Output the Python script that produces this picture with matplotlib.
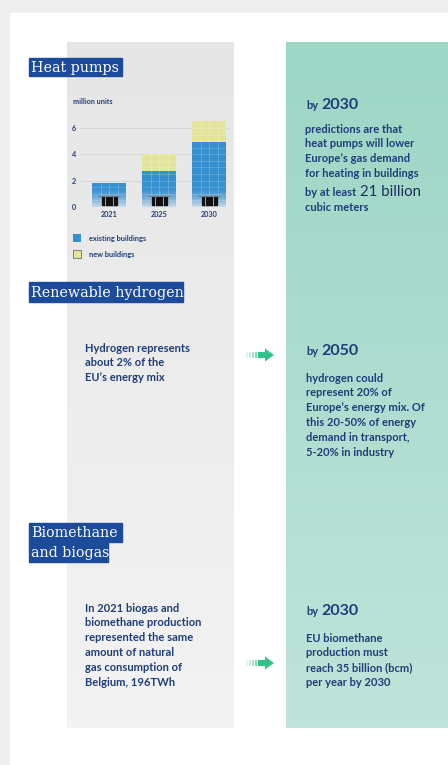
import numpy as np
import matplotlib.pyplot as plt
from matplotlib.patches import Rectangle, Polygon

# heat pump stock, million units
years = ['2021', '2025', '2030']
existing = [1.8, 2.7, 4.9]
new = [0.0, 1.35, 1.6]
y_ticks = [0, 2, 4, 6]

navy = '#1e3d7a'
box_blue = '#1c4b9b'
bar_blue = '#3590cf'
bar_yellow = '#e4e49c'
arrow_green = '#34c189'

W, H = 448, 765
fig = plt.figure(figsize=(W / 100, H / 100), dpi=100)
fig.patch.set_facecolor('#eeeeee')

bg = fig.add_axes([0, 0, 1, 1])
bg.set_xlim(0, W)
bg.set_ylim(H, 0)
bg.axis('off')

# white card
bg.add_patch(Rectangle((10, 13), W - 10, H - 13, color='white', zorder=0))


def gradient_panel(x0, x1, y0, y1, top, bottom):
    c0 = np.array(plt.matplotlib.colors.to_rgb(top))
    c1 = np.array(plt.matplotlib.colors.to_rgb(bottom))
    t = np.linspace(0, 1, 200)[:, None]
    img = (c0 * (1 - t) + c1 * t)[:, None, :]
    bg.imshow(img, extent=(x0, x1, y1, y0), aspect='auto', zorder=1)


gradient_panel(67, 234, 42, 728, '#e6e6e6', '#f3f3f3')
gradient_panel(286, W, 42, 728, '#9dd6c5', '#c0e4da')
bg.set_xlim(0, W)
bg.set_ylim(H, 0)


def title_box(x0, x1, y0, y1, label):
    bg.add_patch(Rectangle((x0, y0), x1 - x0, y1 - y0, color=box_blue, zorder=3))
    bg.text(x0 + 2, (y0 + y1) / 2 + 0.5, label, family='DejaVu Serif', fontsize=10.3,
            color='white', va='center', ha='left', zorder=4)


title_box(29, 122, 58, 76, 'Heat pumps')
title_box(29, 183, 282, 302, 'Renewable hydrogen')
title_box(29, 122, 523, 542, 'Biomethane')
title_box(29, 108, 542, 562, 'and biogas')

body = dict(family='Lato', fontsize=8.0, fontweight='bold', color=navy,
            va='center', ha='left', zorder=4)


def lines(x, y, step, rows):
    for i, row in enumerate(rows):
        bg.text(x, y + i * step, row, **body)


def by_year(x, base, year):
    bg.text(x, base, 'by', family='Lato', fontsize=8, fontweight='bold',
            color=navy, va='baseline', ha='left', zorder=4)
    bg.text(x + 15, base, year, family='Lato', fontsize=11.5, fontweight='bold',
            color=navy, va='baseline', ha='left', zorder=4)


# heat pumps, right column
by_year(306, 109, '2030')
lines(305, 129, 14.7, ['predictions are that', 'heat pumps will lower',
                       'Europe\u2019s gas demand', 'for heating in buildings'])
bg.text(305, 196, 'by at least', family='Lato', fontsize=8.0, fontweight='bold',
        color=navy, va='baseline', ha='left', zorder=4)
bg.text(360, 196, '21 billion', family='Lato', fontsize=10.8, color='#1a2f5c',
        va='baseline', ha='left', zorder=4)
lines(305, 207, 14.7, ['cubic meters'])

# hydrogen
lines(85, 348, 14.5, ['Hydrogen represents', 'about 2% of the', 'EU\u2019s energy mix'])
by_year(306, 355, '2050')
lines(306, 378, 14.8, ['hydrogen could', 'represent 20% of',
                       'Europe\u2019s energy mix. Of', 'this 20-50% of energy',
                       'demand in transport,', '5-20% in industry'])

# biomethane
lines(85, 608, 14.9, ['In 2021 biogas and', 'biomethane production',
                      'represented the same', 'amount of natural',
                      'gas consumption of', 'Belgium, 196TWh'])
by_year(306, 615, '2030')
lines(306, 638, 14.7, ['EU biomethane', 'production must',
                       'reach 35 billion (bcm)', 'per year by 2030'])


def arrow(yc):
    for k, xt in enumerate([246, 249, 252, 255]):
        bg.add_patch(Rectangle((xt, yc - 3), 2, 6, color=arrow_green,
                               alpha=0.15 + 0.15 * k, lw=0, zorder=3))
    bg.add_patch(Rectangle((258, yc - 3.2), 8, 6.4, color=arrow_green, lw=0, zorder=3))
    bg.add_patch(Polygon([(265, yc - 6.5), (274, yc), (265, yc + 6.5)],
                         closed=True, color=arrow_green, lw=0, zorder=3))


arrow(355)
arrow(663)

# bar chart
px = 13.17  # pixels per million units
ymax = 6.8
ax_l, ax_r = 80, 230
ax_bot = 207
ax_top = ax_bot - ymax * px
ax = fig.add_axes([ax_l / W, 1 - ax_bot / H, (ax_r - ax_l) / W, (ax_bot - ax_top) / H])
ax.patch.set_alpha(0)
x = np.arange(len(years))
for t in y_ticks[1:]:
    ax.axhline(t, color='#d6d6d6', lw=0.8, zorder=0)
bw = 0.68
ax.bar(x, existing, bw, color=bar_blue, zorder=2)
ax.bar(x, new, bw, bottom=existing, color=bar_yellow, zorder=2)

for xi, e, n in zip(x, existing, new):
    total = e + n
    # cell grid
    for f in (-0.25, 0, 0.25):
        ax.plot([xi + f * bw, xi + f * bw], [0, total], color='white', lw=0.4, alpha=0.35, zorder=3)
    for hy in np.arange(0.5, total, 0.5):
        ax.plot([xi - bw / 2, xi + bw / 2], [hy, hy], color='white', lw=0.4, alpha=0.3, zorder=3)
    # fade at the base
    fade = np.zeros((60, 1, 4))
    fade[..., :3] = plt.matplotlib.colors.to_rgb('#e2e6ea')
    fade[:, 0, 3] = np.linspace(0, 0.9, 60) ** 1.3
    ax.imshow(fade, extent=(xi - bw / 2, xi + bw / 2, 0, 1.4), aspect='auto', zorder=4)
    # building icon
    ax.add_patch(Rectangle((xi - 0.15, 0.12), 0.3, 0.62, color='#111111', zorder=5))
    for f in (-0.08, 0.08):
        ax.plot([xi + f, xi + f], [0.12, 0.74], color='#bbbbbb', lw=0.6, zorder=6)
    ax.plot([xi - 0.2, xi + 0.2], [0.8, 0.8], color='#777777', lw=0.8, zorder=6)

ax.set_xlim(-0.58, 2.42)
ax.set_ylim(0, ymax)
ax.set_xticks(x)
ax.set_xticklabels(years)
ax.set_yticks(y_ticks)
ax.tick_params(length=0, pad=3, labelsize=5.2, labelcolor=navy)
for lab in ax.get_xticklabels() + ax.get_yticklabels():
    lab.set_fontfamily('Lato')
    lab.set_fontweight('bold')
for s in ax.spines.values():
    s.set_visible(False)

bg.text(73, 101, 'million units', family='Lato', fontsize=5.2, fontweight='bold',
        color=navy, va='center', ha='left')

# legend
bg.add_patch(Rectangle((73, 234), 8, 8, facecolor=bar_blue, edgecolor='none', zorder=3))
bg.add_patch(Rectangle((73, 250), 8, 8, facecolor=bar_yellow, edgecolor='#555555', lw=0.5, zorder=3))
legend_txt = dict(family='Lato', fontsize=5.3, fontweight='bold', color=navy, va='center', ha='left')
bg.text(89, 238, 'existing buildings', **legend_txt)
bg.text(89, 254, 'new buildings', **legend_txt)

fig.savefig('out.png', dpi=100, facecolor=fig.get_facecolor())
